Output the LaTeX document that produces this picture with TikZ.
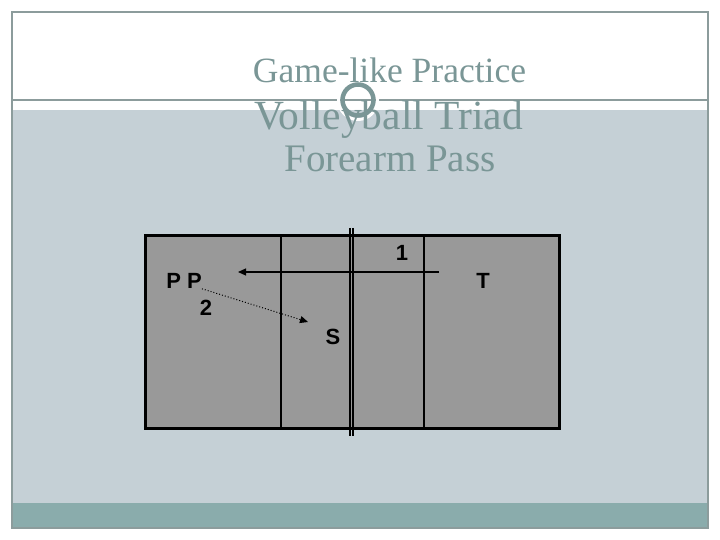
\documentclass[tikz,border=0pt]{standalone}
\usepackage{fontspec}
\setmainfont{Liberation Serif}
\newfontfamily\courtfont{Liberation Sans}
\usetikzlibrary{arrows.meta}
\definecolor{slidefill}{HTML}{C5D0D6}
\definecolor{slideband}{HTML}{8AACAC}
\definecolor{slideline}{HTML}{8C9C9C}
\definecolor{titlegray}{HTML}{7A9696}
\definecolor{courtgray}{HTML}{999999}
\begin{document}
\begin{tikzpicture}[x=1pt, y=-1pt,
  >={Triangle[length=8pt,width=7pt]},
  titletext/.style={anchor=base, inner sep=0pt, text=titlegray},
  courtlbl/.style={inner sep=0pt, font=\courtfont\bfseries\fontsize{22}{26}\selectfont}]
\useasboundingbox (0,0) rectangle (720,540);
% slide background
\fill[slidefill] (12,110) rectangle (708,503);
\fill[slideband] (12,503) rectangle (708,528);
\draw[slideline, line width=1.5pt] (12,12) rectangle (708,528);
\draw[slideline, line width=1.5pt] (12,100) -- (708,100);
\draw[white, line width=3pt] (358,100) circle[radius=19.5pt];
\draw[titlegray, line width=4.5pt] (358,100) circle[radius=15.5pt];

\node[titletext, font=\fontsize{35.5}{40}\selectfont] (game) at (389.5,83) {Game-like Practice};
\node[titletext, font=\fontsize{41.5}{46}\selectfont] (triad) at (388.5,130) {Volleyball Triad};
\node[titletext, font=\fontsize{39}{44}\selectfont] (pass) at (390,172) {Forearm Pass};

% court
\draw[fill=courtgray, line width=3pt] (145,235) rectangle (559,428);
\draw[line width=1.2pt] (281,235) -- (281,428);
\draw[line width=2pt] (424,235) -- (424,428);
\draw[line width=1.8pt] (349.6,228) -- (349.6,436);
\draw[line width=1.8pt] (352.8,228) -- (352.8,436);

\node[courtlbl] (pp) at (184,281) {P P};
\node[courtlbl] (two) at (206,308) {2};
\node[courtlbl] (setter) at (333,337) {S};
\node[courtlbl] (one) at (402,253) {1};
\node[courtlbl] (tosser) at (483,281) {T};

\coordinate (hitstart) at (439,272);
\coordinate (hitend) at (238,272);
\coordinate (passend) at (308,322);

\draw[->, line width=1.2pt] (hitstart) -- (hitend);
\draw[->, dotted, line width=1pt] (pp.south east) -- (passend);
\end{tikzpicture}
\end{document}
